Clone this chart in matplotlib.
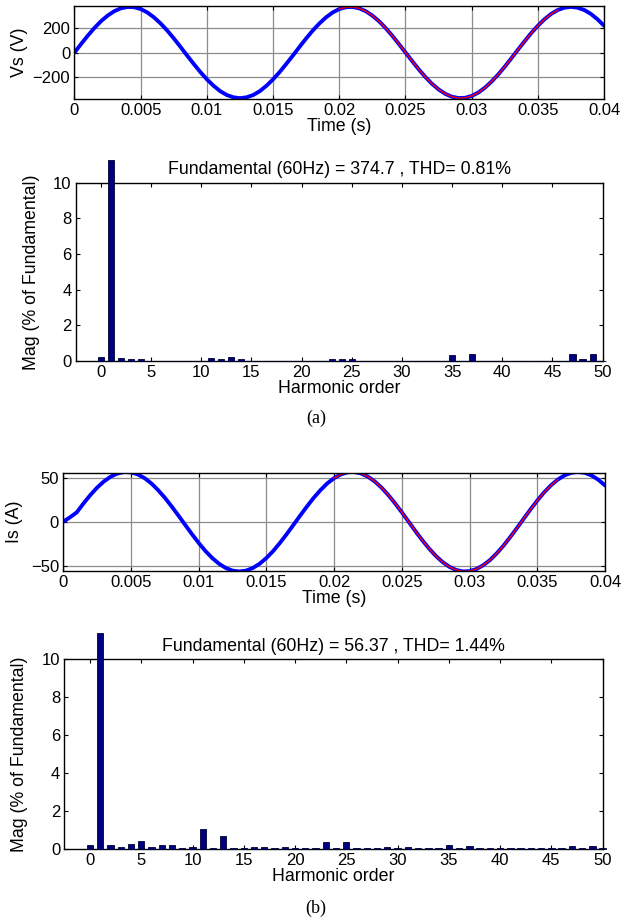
#! /usr/bin/env python3

import numpy as np
import matplotlib
matplotlib.use('Agg')
import matplotlib.pyplot as plt

plt.rcParams['font.family'] = ['Liberation Sans', 'DejaVu Sans']

# time axis, 0.5 ms steps
t = np.arange(81) * 0.0005

VS = [0, 70, 138, 201, 257, 303, 339, 363, 374, 372, 357, 329, 289, 239, 181, 116, 47,
      -24, -93, -160, -220, -273, -317, -349, -368, -375, -368, -349, -317, -273, -220,
      -160, -93, -24, 47, 116, 181, 239, 289, 329, 357, 372, 374, 363, 339, 303, 257,
      201, 138, 70, 0, -70, -138, -201, -257, -303, -339, -363, -374, -372, -357, -329,
      -289, -239, -181, -116, -47, 24, 93, 160, 220, 273, 317, 349, 368, 375, 368, 349,
      317, 273, 220]

IS = [0, 5, 10.6, 20.8, 30.2, 38.6, 45.6, 51.0, 54.6, 56.3, 56.0, 53.6, 49.4, 43.5, 35.9,
      27.2, 17.4, 7.1, -3.5, -14.0, -24.0, -33.2, -41.1, -47.6, -52.4, -55.4, -56.4,
      -55.4, -52.4, -47.6, -41.1, -33.2, -24.0, -14.0, -3.5, 7.1, 17.4, 27.2, 35.9, 43.5,
      49.4, 53.6, 56.0, 56.3, 54.6, 51.0, 45.6, 38.6, 30.2, 20.8, 10.6, 0, -10.6, -20.8,
      -30.2, -38.6, -45.6, -51.0, -54.6, -56.3, -56.0, -53.6, -49.4, -43.5, -35.9, -27.2,
      -17.4, -7.1, 3.5, 14.0, 24.0, 33.2, 41.1, 47.6, 52.4, 55.4, 56.4, 55.4, 52.4, 47.6,
      41.1]

# FFT window (one cycle starting at 0.02 s)
WIN_START = 0.02
WIN_END = 0.02 + 1 / 60

HARM = np.arange(51)
MAG_VS = [0.24, 100, 0.15, 0.09, 0.09, 0.02, 0.02, 0.02, 0.02, 0.02, 0.02, 0.19, 0.09,
          0.2, 0.09, 0.02, 0.02, 0.02, 0.02, 0.02, 0.02, 0.02, 0.02, 0.13, 0.09, 0.11,
          0.02, 0.02, 0.02, 0.02, 0.02, 0.02, 0.02, 0.02, 0.02, 0.32, 0.02, 0.37, 0.02,
          0.02, 0.02, 0.02, 0.02, 0.02, 0.02, 0.02, 0.02, 0.37, 0.09, 0.37, 0.02]
MAG_IS = [0.19, 100, 0.18, 0.09, 0.25, 0.4, 0.09, 0.19, 0.19, 0.04, 0.09, 1.04, 0.03,
          0.67, 0.02, 0.02, 0.08, 0.08, 0.02, 0.08, 0.02, 0.02, 0.02, 0.37, 0.02, 0.37,
          0.02, 0.02, 0.02, 0.08, 0.02, 0.08, 0.02, 0.02, 0.02, 0.18, 0.02, 0.13, 0.02,
          0.02, 0.02, 0.02, 0.02, 0.02, 0.02, 0.02, 0.02, 0.13, 0.02, 0.13, 0.02]

TITLE_VS = 'Fundamental (60Hz) = 374.7 , THD= 0.81%'
TITLE_IS = 'Fundamental (60Hz) = 56.37 , THD= 1.44%'

TIME_TICKS = [0, 0.005, 0.01, 0.015, 0.02, 0.025, 0.03, 0.035, 0.04]
TIME_LABELS = ['0', '0.005', '0.01', '0.015', '0.02', '0.025', '0.03', '0.035', '0.04']

FS = 12
LFS = 12.8


def style_axes(ax):
    ax.tick_params(direction='in', top=True, right=True, labelsize=FS,
                   length=3, width=0.8, pad=3)
    for s in ax.spines.values():
        s.set_linewidth(1.0)


def wave_panel(ax, y, ylab, ylim, yticks, lab_x):
    y = np.array(y, dtype=float)
    ax.plot(t, y, color='#0000ff', lw=2.8, solid_capstyle='round')
    m = (t >= WIN_START - 1e-9) & (t <= WIN_END + 1e-9)
    ax.plot(t[m], y[m], color='#ff0000', lw=1.0)
    ax.set_xlim(0, 0.04)
    ax.set_ylim(*ylim)
    ax.set_xticks(TIME_TICKS)
    ax.set_xticklabels(TIME_LABELS)
    ax.set_yticks(yticks)
    ax.grid(True, color='#8c8c8c', lw=0.9)
    ax.set_axisbelow(True)
    ax.set_xlabel('Time (s)', fontsize=LFS, labelpad=0)
    ax.set_ylabel(ylab, fontsize=LFS)
    ax.yaxis.set_label_coords(lab_x, 0.5)
    style_axes(ax)


def bar_panel(ax, mag, title, cap, lab_x):
    h = np.minimum(np.array(mag, dtype=float), cap)
    ax.bar(HARM, h, width=0.62, color='#00007f', edgecolor='#000033',
           lw=0.6, clip_on=False, zorder=3)
    ax.set_xlim(-2.5, 50)
    ax.set_ylim(0, 10)
    ax.set_xticks(np.arange(0, 51, 5))
    ax.set_yticks(np.arange(0, 11, 2))
    ax.set_title(title, fontsize=LFS, pad=6)
    ax.set_xlabel('Harmonic order', fontsize=LFS, labelpad=0)
    ax.set_ylabel('Mag (% of Fundamental)', fontsize=LFS)
    ax.yaxis.set_label_coords(lab_x, 0.5)
    style_axes(ax)


fig = plt.figure(figsize=(6.26, 9.22), dpi=100)

ax1 = fig.add_axes([0.119, 0.8926, 0.846, 0.1009])
wave_panel(ax1, VS, 'Vs (V)', (-382, 382), [-200, 0, 200], -0.088)

ax2 = fig.add_axes([0.121, 0.6085, 0.8417, 0.1934])
bar_panel(ax2, MAG_VS, TITLE_VS, 11.27, -0.068)

ax3 = fig.add_axes([0.101, 0.381, 0.8655, 0.1063])
wave_panel(ax3, IS, 'Is (A)', (-55.5, 55.5), [-50, 0, 50], -0.074)

ax4 = fig.add_axes([0.1029, 0.0795, 0.8597, 0.2054])
bar_panel(ax4, MAG_IS, TITLE_IS, 11.37, -0.068)

fig.text(0.505, 0.5466, '(a)', ha='center', va='center', fontsize=13,
         family=['Liberation Serif', 'DejaVu Serif'])
fig.text(0.505, 0.0152, '(b)', ha='center', va='center', fontsize=13,
         family=['Liberation Serif', 'DejaVu Serif'])

fig.savefig('out.png', dpi=100)
